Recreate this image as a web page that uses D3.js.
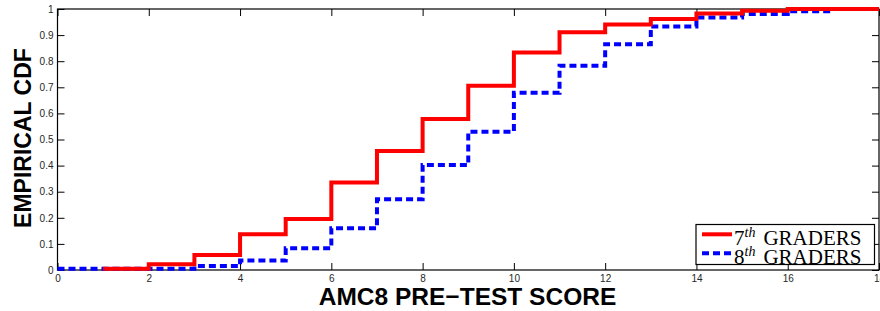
<!DOCTYPE html>
<html><head><meta charset="utf-8">
<script src="https://cdn.jsdelivr.net/npm/d3@7"></script>
<style>body{margin:0;background:#fff}svg{display:block}</style>
</head><body>
<script>
// Data
const scores7 = [1,2,3,4,5,6,7,8,9,10,11,12,13,14,15,16,18];
const cdf7    = [0.005,0.022,0.057,0.137,0.195,0.335,0.456,0.579,0.706,0.833,0.911,0.941,0.962,0.983,0.993,1.0,1.0];
const scores8 = [0,1,2,3,4,5,6,7,8,9,10,11,12,13,14,15,16,17];
const cdf8    = [0.005,0.005,0.005,0.015,0.036,0.083,0.160,0.271,0.402,0.530,0.679,0.783,0.865,0.933,0.967,0.981,0.991,0.991];
const xTicks = [0,2,4,6,8,10,12,14,16,18];
const yTicks = [0,0.1,0.2,0.3,0.4,0.5,0.6,0.7,0.8,0.9,1];
const seriesNames = ["7", "8"];
const xTitle = "AMC8 PRE\u2212TEST SCORE";
const yTitle = "EMPIRICAL CDF";

const W = 880, H = 311;
const L = 57.5, R = 879, T = 9, B = 270;
const svg = d3.select("body").append("svg").attr("width", W).attr("height", H);

const x = d3.scaleLinear().domain([0,18]).range([L, R]);
const y = d3.scaleLinear().domain([0,1]).range([B, T]);

const tickFont = "Arial, 'Liberation Sans', sans-serif";
// axes
const gx = svg.append("g").attr("transform", `translate(0,${B})`)
  .call(d3.axisBottom(x).tickValues(xTicks).tickSize(-7).tickPadding(5).tickFormat(d3.format("d")));
const gxTop = svg.append("g").attr("transform", `translate(0,${T})`)
  .call(d3.axisTop(x).tickValues(xTicks).tickSize(-7).tickFormat(""));
const gy = svg.append("g").attr("transform", `translate(${L},0)`)
  .call(d3.axisLeft(y).tickValues(yTicks).tickSize(-7).tickPadding(4).tickFormat(d => d === 0 || d === 1 ? d3.format("d")(d) : d3.format(".1f")(d)));
const gyR = svg.append("g").attr("transform", `translate(${R},0)`)
  .call(d3.axisRight(y).tickValues(yTicks).tickSize(-7).tickFormat(""));
[gx, gxTop, gy, gyR].forEach(g => {
  g.select(".domain").remove();
  g.selectAll("line").attr("stroke", "#000").attr("stroke-width", 1);
  g.selectAll("text").attr("font-family", tickFont).attr("font-size", 10).attr("fill", "#262626");
});
svg.append("rect").attr("x", L).attr("y", T).attr("width", R - L).attr("height", B - T)
  .attr("fill", "none").attr("stroke", "#000").attr("stroke-width", 1.2);

const line = d3.line().x(d => x(d[0])).y(d => y(d[1])).curve(d3.curveStepAfter);
svg.append("path").datum(scores8.map((s,i) => [s, cdf8[i]]))
  .attr("d", line).attr("fill", "none").attr("stroke", "#0000ff").attr("stroke-width", 4)
  .attr("stroke-dasharray", "7,4");
svg.append("path").datum(scores7.map((s,i) => [s, cdf7[i]]))
  .attr("d", line).attr("fill", "none").attr("stroke", "#ff0000").attr("stroke-width", 4);

// titles
svg.append("text").attr("x", 467.5).attr("y", 305).attr("text-anchor", "middle")
  .attr("font-family", tickFont).attr("font-weight", "bold").attr("font-size", 24.5).text(xTitle);
svg.append("text").attr("transform", `translate(31,138) rotate(-90)`).attr("text-anchor", "middle")
  .attr("font-family", tickFont).attr("font-weight", "bold").attr("font-size", 23).text(yTitle);

// legend
const lg = svg.append("g");
lg.append("rect").attr("x", 696).attr("y", 224.5).attr("width", 178.5).attr("height", 40)
  .attr("fill", "#fff").attr("stroke", "#000").attr("stroke-width", 1.2);
const colors = ["#ff0000", "#0000ff"];
const dashes = [null, "7,4"];
seriesNames.forEach((n, i) => {
  const yy = 234.3 + i * 19;
  lg.append("line").attr("x1", 702).attr("x2", 732).attr("y1", yy).attr("y2", yy)
    .attr("stroke", colors[i]).attr("stroke-width", 4).attr("stroke-dasharray", dashes[i]);
  const t = lg.append("text").attr("x", 734).attr("y", yy + 10.4)
    .attr("font-family", "'Liberation Serif', 'DejaVu Serif', serif").attr("font-size", 21).attr("fill", "#000");
  t.append("tspan").text(n);
  t.append("tspan").attr("dy", -8).attr("font-size", 14).attr("font-style", "italic").text("th");
  t.append("tspan").attr("dy", 8).attr("dx", 8).text("GRADERS");
});
</script>
</body></html>
